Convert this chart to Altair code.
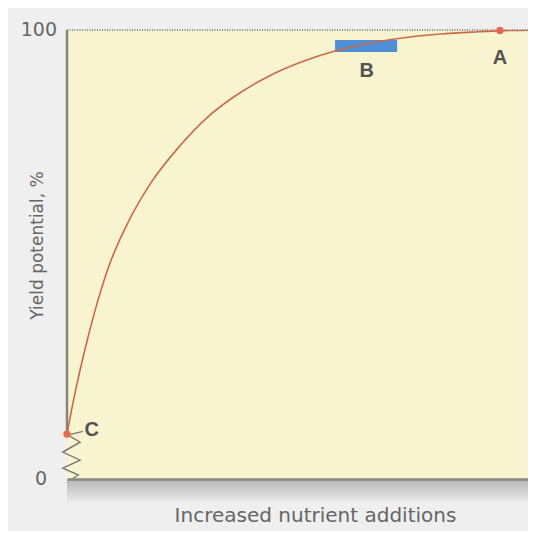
import altair as alt
import pandas as pd

# Response curve (x: nutrient additions, arbitrary units; y: yield potential %)
curve_x = [0, 1, 2, 4, 6, 9, 13, 18, 24, 30, 36, 43, 50, 57, 64, 71, 80, 88, 93, 100]
curve_y = [10, 15.5, 20.5, 29.5, 37.5, 47.5, 57, 66, 74, 80.5, 85.3, 89.6, 92.8, 95.2, 96.9, 98.1, 99.1, 99.6, 99.85, 100.0]

# Break symbol (zigzag) on the y axis below point C
zig_x = [0.2, 2.8, -0.9, 2.8, -0.9, 2.4, 1.1]
zig_y = [9.8, 8.2, 6.0, 4.2, 2.4, 0.9, 0]

# Marked points and labels
pt_names = ["A", "C"]
pt_x = [92.7, 0]
pt_y = [99.9, 10]
lab_names = ["A", "B", "C"]
lab_x = [92.7, 64.2, 5.3]
lab_y = [93.8, 90.9, 10.9]

# B range
b_x1, b_x2 = 57.4, 70.7
b_y1, b_y2 = 95.1, 97.8

# y tick labels
tick_vals = [0, 100]
tick_text = ["0", "100"]
tick_dx = [-20, -10]

curve = pd.DataFrame({"x": curve_x, "y": curve_y})
zig = pd.DataFrame({"x": zig_x, "y": zig_y, "o": list(range(len(zig_x)))})
pts = pd.DataFrame({"x": pt_x, "y": pt_y, "name": pt_names})
labs = pd.DataFrame({"x": lab_x, "y": lab_y, "name": lab_names})
bdf = pd.DataFrame({"x": [b_x1], "x2": [b_x2], "y": [b_y1], "y2": [b_y2]})
ticks = pd.DataFrame({"y": tick_vals, "t": tick_text, "dx": tick_dx})

grey = "#666666"
W, H = 461, 449
xs = alt.Scale(domain=[0, 100 * W / 467], nice=False, zero=False)
ys = alt.Scale(domain=[0, 100], nice=False, zero=False)

X = alt.X("x:Q", scale=xs, axis=alt.Axis(
    title="Increased nutrient additions", labels=False, ticks=False, grid=False,
    domain=True, domainColor="#86867a", domainWidth=2.5, zindex=1,
    titleFontSize=20, titleFont="DejaVu Sans", titleFontWeight="normal",
    titleColor=grey, titleX=248, titleY=36, titleBaseline="middle"))
Y = alt.Y("y:Q", scale=ys, axis=alt.Axis(
    title="Yield potential, %", labels=False, ticks=False, grid=False, domain=False,
    titleFontSize=17, titleFont="DejaVu Sans", titleFontWeight="normal",
    titleColor=grey, titleX=-30, titleY=215, titleAngle=-90,
    titleBaseline="middle", titleAlign="center"))

shadow = alt.Chart(pd.DataFrame({"x": [0], "x2": [100], "y": [-5.0], "y2": [-0.25]})).mark_rect(
    clip=False,
    color=alt.Gradient(gradient="linear", x1=0, x2=0, y1=0, y2=1,
                       stops=[alt.GradientStop(offset=0, color="#b8b8b8"),
                              alt.GradientStop(offset=1, color="#e9e9e9")])).encode(
    x=alt.value(0), x2=alt.value(W), y=alt.Y("y:Q", scale=ys), y2="y2:Q")

line = alt.Chart(curve).mark_line(color="#c86a48", strokeWidth=1.6, interpolate="monotone",
                                  clip=True).encode(x=X, y=Y)

top_rule = alt.Chart(pd.DataFrame({"y": [100]})).mark_rule(
    color="#8a8a8a", strokeWidth=2, strokeDash=[1, 1.5]).encode(
    x=alt.value(0), x2=alt.value(W), y=alt.Y("y:Q", scale=ys))

left_rule = alt.Chart(pd.DataFrame({"y": [10], "y2": [100]})).mark_rule(
    color="#85857c", strokeWidth=2.5).encode(
    x=alt.value(0), y=alt.Y("y:Q", scale=ys), y2="y2:Q")

zz = alt.Chart(zig).mark_line(color="#77776f", strokeWidth=1.4, clip=False).encode(
    x=alt.X("x:Q", scale=xs), y=alt.Y("y:Q", scale=ys), order="o:Q")

brect = alt.Chart(bdf).mark_rect(color="#4f8fd6").encode(
    x=alt.X("x:Q", scale=xs), x2="x2:Q", y=alt.Y("y:Q", scale=ys), y2="y2:Q")

points = alt.Chart(pts).mark_circle(color="#e5694f", size=55, opacity=1, clip=False).encode(
    x=alt.X("x:Q", scale=xs), y=alt.Y("y:Q", scale=ys))

leader = alt.Chart(pd.DataFrame({"x": [0.6], "x2": [3.4], "y": [9.9], "y2": [10.6]})).mark_rule(
    color="#77776f", strokeWidth=1.2).encode(
    x=alt.X("x:Q", scale=xs), x2="x2:Q", y=alt.Y("y:Q", scale=ys), y2="y2:Q")

labels = alt.Chart(labs).mark_text(fontSize=20, fontWeight="bold", color="#525252",
                                   font="Liberation Sans").encode(
    x=alt.X("x:Q", scale=xs), y=alt.Y("y:Q", scale=ys), text="name:N")

tick_labels = alt.Chart(ticks).mark_text(fontSize=19, color=grey, align="right",
                                         baseline="middle", font="DejaVu Sans").encode(
    x=alt.value(0), y=alt.Y("y:Q", scale=ys), text="t:N",
    xOffset=alt.XOffset("dx:Q", scale=None))

chart = alt.layer(shadow, top_rule, left_rule, zz, brect, line, leader, points, labels,
                  tick_labels).properties(
    width=W, height=H,
    padding={"left": 59, "top": 22, "right": 0, "bottom": 52},
    autosize=alt.AutoSizeParams(type="none"),
    background="#efefef",
).configure_view(fill="#f8f4d0", stroke=None)

chart.save("out.html", embed_options={"renderer": "svg", "actions": False})
